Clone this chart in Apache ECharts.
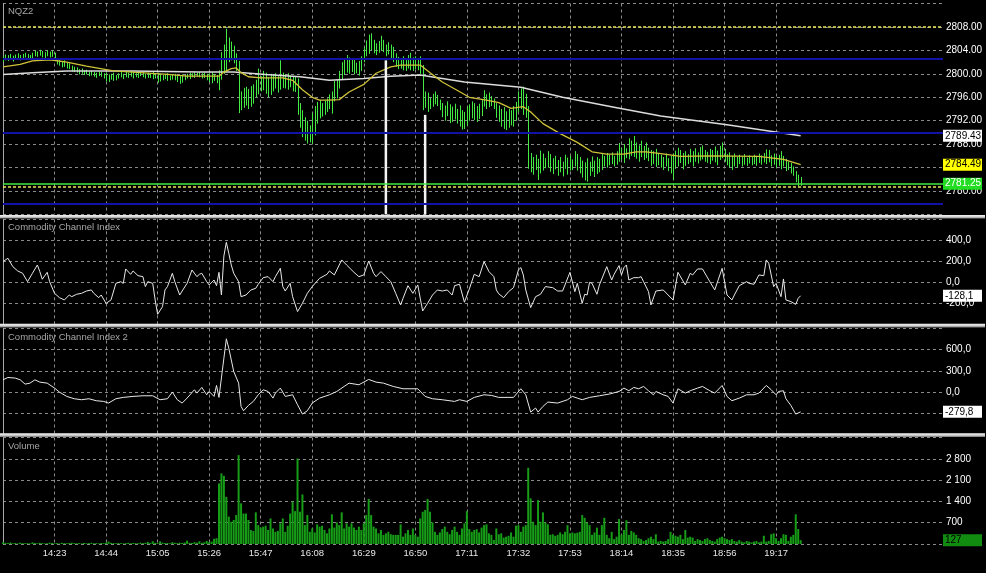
<!DOCTYPE html>
<html><head><meta charset="utf-8">
<script src="https://cdn.jsdelivr.net/npm/echarts@6/dist/echarts.min.js"></script>
<style>html,body{margin:0;padding:0;background:#000;}#c{width:986px;height:573px;}</style>
</head><body><div id="c"></div>
<script>
// ---------------- data ----------------
const symbolName = 'NQZ2';
const startTime = '14:02';   // first 1-minute bar
const endTime = '20:25';     // right edge of the time axis
const timeTicks = ['14:23','14:44','15:05','15:26','15:47','16:08','16:29','16:50','17:11','17:32','17:53','18:14','18:35','18:56','19:17'];

// 1-minute bar highs / lows (one per minute from 14:02)
const highs = [
2803.0,2803.3,2803.2,2803.4,2803.1,2803.3,2803.5,2803.2,2803.4,2803.6,
2803.4,2803.2,2803.6,2804.0,2803.8,2804.1,2803.9,2803.7,2804.0,2803.8,
2804.0,2803.6,2802.6,2802.4,2802.1,2802.3,2801.9,2801.8,2801.4,2801.2,
2801.1,2800.8,2800.9,2800.6,2800.7,2800.4,2800.5,2800.3,2800.2,2800.4,
2800.3,2800.1,2800.2,2799.9,2800.0,2800.2,2799.8,2800.1,2800.3,2800.0,
2800.4,2800.2,2800.5,2800.3,2800.1,2800.4,2800.2,2800.3,2800.0,2800.2,
2800.1,2800.3,2800.0,2800.2,2799.9,2799.8,2800.0,2800.1,2799.7,2799.9,
2800.0,2799.8,2799.6,2799.9,2799.8,2800.0,2800.2,2800.1,2800.3,2800.2,
2800.3,2800.1,2800.2,2800.0,2800.1,2800.3,2800.0,2799.8,2800.6,2803.7,
2805.0,2807.7,2806.2,2805.5,2804.8,2803.5,2802.2,2797.0,2797.6,2797.8,
2797.4,2797.9,2798.2,2799.0,2800.9,2799.6,2800.5,2800.2,2799.4,2800.0,
2799.8,2800.1,2799.6,2802.3,2800.2,2799.9,2800.1,2799.7,2799.5,2799.5,
2799.2,2795.0,2793.8,2792.6,2792.0,2791.2,2793.3,2794.5,2795.2,2795.5,
2795.0,2795.4,2795.8,2796.5,2797.0,2798.8,2799.0,2800.5,2802.0,2802.6,
2803.2,2802.8,2802.4,2802.5,2801.9,2802.2,2803.0,2804.5,2805.7,2806.7,
2806.9,2805.8,2805.2,2805.6,2806.5,2805.8,2805.0,2805.4,2805.0,2804.6,
2803.5,2802.9,2802.4,2803.0,2802.7,2803.2,2803.6,2802.8,2803.0,2802.5,
2803.0,2801.5,2797.0,2796.8,2795.9,2796.6,2797.0,2796.4,2795.6,2795.0,
2794.6,2795.3,2794.8,2794.4,2794.9,2794.0,2794.6,2793.8,2793.5,2794.4,
2794.8,2795.3,2795.0,2794.5,2794.9,2795.6,2797.2,2796.5,2796.8,2796.2,
2795.8,2795.0,2794.6,2794.0,2794.3,2793.6,2794.0,2793.8,2794.5,2795.2,
2797.0,2797.5,2797.8,2796.6,2794.5,2786.5,2785.8,2786.2,2785.5,2786.9,
2786.4,2785.6,2786.8,2786.3,2785.6,2786.0,2785.3,2785.8,2785.0,2786.2,
2785.7,2786.0,2785.4,2786.8,2786.3,2785.8,2785.2,2784.9,2785.6,2785.0,
2785.9,2785.2,2785.8,2785.5,2786.3,2786.0,2786.5,2786.2,2786.6,2786.0,
2786.8,2788.2,2787.4,2788.0,2787.3,2789.0,2788.6,2789.4,2788.3,2787.8,
2788.6,2787.7,2788.3,2787.4,2787.0,2786.8,2787.2,2786.5,2786.2,2785.8,
2786.4,2785.6,2786.0,2786.4,2786.9,2787.4,2787.0,2786.5,2786.8,2786.3,
2787.2,2786.8,2787.3,2786.6,2787.5,2787.8,2787.0,2786.7,2787.2,2787.0,
2787.6,2786.9,2787.7,2788.3,2787.2,2786.3,2786.6,2786.0,2786.4,2785.8,
2786.2,2785.9,2786.3,2785.7,2786.1,2785.8,2786.2,2786.0,2786.4,2786.1,
2786.5,2787.1,2787.0,2786.1,2786.4,2786.0,2786.2,2786.8,2786.0,2785.5,
2785.0,2784.8,2784.2,2783.4,2782.8,2782.4];
const lows = [
2802.0,2802.3,2802.2,2802.4,2802.1,2802.5,2802.6,2802.3,2802.5,2802.8,
2802.6,2802.4,2802.7,2803.0,2802.9,2803.1,2802.8,2802.7,2803.0,2802.8,
2802.9,2802.4,2801.6,2801.4,2801.1,2801.2,2800.9,2800.8,2800.4,2800.3,
2800.2,2799.9,2800.0,2799.8,2799.9,2799.6,2799.7,2799.5,2799.3,2799.6,
2799.5,2799.2,2798.7,2798.6,2799.0,2798.8,2798.9,2799.2,2799.4,2799.1,
2799.4,2799.3,2799.5,2799.2,2799.4,2799.3,2799.6,2799.4,2799.2,2799.3,
2799.3,2799.1,2799.2,2798.5,2798.7,2798.9,2799.1,2798.8,2798.9,2799.0,
2798.9,2798.6,2798.3,2798.5,2798.9,2799.2,2799.1,2799.4,2799.3,2799.5,
2799.4,2799.2,2799.3,2798.9,2798.6,2798.4,2798.8,2798.4,2797.2,2799.0,
2800.0,2800.3,2802.0,2802.3,2801.8,2800.5,2793.3,2793.8,2794.2,2794.6,
2794.0,2794.4,2794.9,2796.0,2796.5,2797.0,2797.2,2796.6,2796.0,2796.4,
2797.0,2797.5,2796.8,2797.3,2797.6,2797.5,2797.3,2797.7,2797.0,2796.9,
2793.0,2790.8,2789.2,2788.6,2788.1,2788.3,2788.1,2789.5,2791.5,2792.4,
2792.7,2793.0,2793.5,2794.0,2793.2,2795.3,2795.8,2797.5,2799.0,2799.8,
2800.2,2800.0,2800.3,2799.9,2800.1,2799.7,2800.5,2802.0,2803.0,2803.4,
2804.0,2803.5,2803.2,2803.6,2804.0,2803.7,2803.0,2803.3,2802.6,2802.0,
2801.2,2800.8,2800.9,2800.6,2800.5,2800.9,2800.6,2800.5,2800.8,2800.6,
2800.0,2793.8,2794.2,2793.5,2794.0,2794.4,2794.8,2794.5,2793.8,2792.6,
2792.0,2792.8,2791.6,2791.8,2792.2,2791.5,2791.0,2790.5,2790.6,2791.2,
2792.0,2792.4,2792.1,2791.8,2792.3,2792.8,2794.4,2794.0,2794.3,2794.5,
2794.0,2792.5,2791.8,2791.0,2790.6,2790.4,2790.8,2791.2,2791.0,2792.0,
2793.5,2794.0,2793.0,2792.5,2783.8,2783.2,2782.8,2783.6,2781.9,2783.0,
2783.5,2783.9,2784.0,2783.3,2782.9,2783.7,2782.6,2783.2,2782.5,2783.8,
2782.8,2783.5,2783.6,2784.2,2783.5,2783.0,2782.3,2781.8,2781.6,2782.6,
2783.3,2782.4,2782.9,2783.2,2783.6,2784.2,2784.0,2784.4,2784.6,2784.2,
2784.5,2785.0,2785.3,2784.8,2785.6,2785.4,2786.0,2785.8,2785.5,2785.0,
2785.8,2785.3,2785.6,2785.1,2784.3,2784.6,2784.1,2784.4,2784.0,2783.6,
2784.2,2783.4,2783.0,2781.9,2783.8,2784.2,2784.8,2783.7,2784.3,2784.6,
2784.9,2784.2,2785.0,2784.7,2785.2,2785.4,2785.0,2784.8,2784.6,2785.2,
2784.9,2784.4,2785.3,2785.6,2785.0,2784.4,2784.0,2783.6,2784.2,2784.0,
2784.6,2784.2,2784.5,2784.3,2784.7,2784.4,2784.6,2784.3,2784.8,2784.5,
2784.9,2784.6,2784.9,2784.2,2784.5,2784.0,2784.3,2783.7,2784.2,2783.4,
2783.6,2783.0,2782.6,2781.5,2780.8,2780.9];
const volumes = [
60,40,30,50,25,35,20,45,30,25,
30,20,55,35,25,40,30,20,25,45,
35,25,30,20,40,30,25,35,45,30,
25,30,20,35,25,30,40,25,30,20,
35,30,45,80,40,30,25,35,30,20,
30,40,25,35,30,25,45,30,40,70,
35,90,40,30,85,45,30,35,25,60,
40,30,45,35,50,110,40,35,60,45,
90,40,55,100,60,80,170,190,1990,2320,
2240,1550,900,730,790,950,2920,1335,1000,1000,
790,460,430,1040,620,540,570,600,460,840,
510,400,430,680,840,400,600,1000,1390,1080,
2810,1060,1630,620,950,400,510,380,645,570,
600,460,350,510,975,540,710,620,1040,510,
680,570,680,540,460,570,460,680,950,1480,
950,570,510,350,460,300,350,400,320,300,
300,300,645,240,350,460,300,510,300,240,
840,1060,1115,1480,1060,710,400,300,380,490,
570,400,320,460,570,400,300,510,680,1080,
490,400,460,490,380,540,620,645,350,300,
130,510,320,350,210,240,270,380,240,600,
620,400,570,620,2505,1500,730,620,1445,730,
1040,710,645,300,320,270,300,380,320,400,
620,350,380,350,370,400,950,860,710,620,
300,380,540,300,620,860,300,190,400,160,
240,820,300,460,780,300,430,380,300,190,
160,100,130,190,240,160,320,80,100,80,
100,160,400,300,270,240,300,160,460,210,
240,210,100,160,130,100,160,190,130,100,
80,160,210,240,190,160,130,160,100,80,
130,80,55,100,80,55,80,100,55,80,
270,80,100,320,350,190,100,190,320,300,
100,240,300,975,490,127];

// moving averages: [minute offset, price]
const maSlow = [[0,2799.9],[12,2800.2],[26,2800.5],[53,2800.5],[80,2800.3],[94,2800.3],[107,2799.9],[121,2799.5],[133,2798.9],[147,2799.2],[158,2799.6],[170,2799.8],[188,2798.6],[211,2797.7],[228,2796.0],[249,2794.3],[268,2792.8],[295,2791.3],[325,2789.43]];
const maFast = [[0,2801.2],[7,2801.6],[12,2802.2],[19,2802.4],[26,2802.0],[34,2801.3],[45,2800.5],[56,2800.2],[67,2799.9],[75,2799.6],[83,2799.6],[88,2799.6],[90,2800.3],[93,2800.9],[95,2801.0],[97,2800.2],[100,2799.5],[105,2799.3],[114,2799.3],[118,2798.9],[122,2797.3],[126,2796.0],[129,2795.5],[133,2795.5],[137,2795.6],[141,2796.9],[147,2798.2],[152,2800.1],[158,2801.2],[162,2801.5],[170,2801.5],[174,2800.2],[179,2798.6],[185,2797.2],[190,2796.0],[197,2795.5],[202,2795.1],[207,2794.1],[212,2794.4],[215,2793.5],[220,2791.5],[227,2789.8],[234,2788.3],[240,2786.7],[246,2786.3],[253,2786.3],[258,2786.7],[262,2786.7],[268,2786.4],[276,2785.9],[288,2786.0],[308,2785.9],[318,2785.4],[325,2784.49]];

// Commodity Channel Index: [minute offset, value]
const cci1 = [[0,197],[2,229],[4,149],[6,108],[8,86],[10,6],[12,86],[14,165],[15,102],[16,29],[18,95],[19,6],[21,-105],[23,-146],[25,-168],[27,-121],[28,-137],[30,-114],[32,-105],[34,-83],[36,-73],[37,-105],[39,-146],[40,-121],[42,-200],[44,-168],[46,-10],[48,6],[49,-10],[50,127],[52,76],[53,108],[55,63],[57,54],[58,-41],[59,6],[61,-10],[62,-168],[63,-305],[65,-232],[66,-73],[67,-41],[69,86],[70,6],[72,-121],[73,-83],[75,-10],[77,117],[79,54],[80,76],[81,86],[83,6],[84,-25],[86,22],[87,-32],[88,95],[89,-121],[90,250],[91,381],[92,276],[93,165],[94,86],[96,6],[97,-137],[99,-121],[101,-73],[103,-57],[104,-19],[106,44],[108,54],[110,6],[111,54],[113,133],[114,-41],[115,-83],[117,-10],[118,-137],[120,-279],[122,-200],[124,-105],[126,-41],[129,38],[132,76],[133,108],[135,70],[138,213],[140,165],[143,95],[145,54],[147,70],[149,203],[151,86],[152,54],[154,102],[156,54],[158,6],[160,-105],[162,-216],[163,-152],[165,-32],[167,-105],[169,-25],[170,-152],[171,-273],[173,-200],[175,-121],[177,-73],[179,-83],[181,-73],[183,-121],[184,-32],[186,-19],[188,-190],[190,-63],[192,76],[194,54],[196,197],[198,102],[200,54],[201,-73],[202,-110],[204,-146],[206,-89],[208,-51],[210,117],[211,140],[212,70],[213,-73],[215,-241],[217,-137],[219,-114],[221,-41],[224,-51],[226,-83],[228,-83],[231,95],[233,-89],[234,-10],[236,-200],[237,-114],[238,-121],[239,0],[240,-10],[242,-114],[243,-25],[246,149],[248,22],[249,76],[251,159],[252,70],[253,140],[254,165],[255,22],[257,44],[259,44],[260,54],[261,6],[263,-89],[264,-216],[266,-83],[269,-73],[271,-121],[273,-168],[275,95],[278,-25],[280,86],[281,70],[283,127],[285,127],[288,6],[290,-73],[293,133],[295,-121],[297,-168],[298,-121],[300,-32],[303,6],[304,-10],[306,-19],[308,70],[310,63],[311,213],[312,181],[314,-41],[315,-10],[317,-137],[318,32],[319,-168],[321,-184],[323,-210],[324,-152],[325,-128.1]];
const cci2 = [[0,174],[2,207],[5,198],[7,174],[9,113],[11,127],[13,174],[15,141],[18,127],[21,57],[23,0],[26,-61],[29,-94],[32,-108],[35,-94],[38,-122],[41,-132],[43,-155],[46,-94],[49,-75],[53,-61],[57,-52],[61,-52],[64,-108],[67,-94],[69,0],[71,-108],[73,-155],[75,-85],[78,33],[79,-14],[81,66],[83,-38],[84,9],[86,-61],[87,94],[88,-75],[90,480],[91,754],[92,622],[94,292],[96,127],[97,-203],[98,-264],[100,-188],[102,-132],[104,-38],[106,33],[108,9],[110,-85],[111,-14],[113,57],[115,-61],[118,-38],[120,-179],[122,-311],[124,-264],[126,-155],[129,-85],[133,-38],[136,9],[139,80],[141,127],[145,104],[149,179],[152,141],[155,127],[159,80],[163,47],[169,47],[172,-61],[175,-94],[179,-108],[184,-132],[186,-108],[189,-132],[192,-75],[196,-38],[199,-47],[202,-75],[208,-75],[211,47],[213,-38],[215,-283],[217,-226],[218,-283],[220,-203],[222,-141],[226,-155],[230,-108],[232,-61],[234,-85],[236,-108],[239,-75],[243,-52],[247,-28],[251,9],[253,57],[255,19],[257,66],[259,47],[261,80],[263,19],[265,-38],[266,9],[269,-38],[271,-61],[273,-155],[275,47],[278,-14],[280,19],[283,57],[285,80],[288,19],[290,-14],[293,94],[295,-61],[297,-122],[300,-85],[303,-38],[306,-38],[308,-14],[311,94],[313,33],[315,-38],[316,9],[318,19],[319,-94],[321,-188],[323,-311],[325,-279.8]];

// horizontal price levels
const blueLevels = [2802.5, 2790.0, 2777.75];
const yellowLevels = [2808.0, 2780.75];
const lastPrice = 2781.25;
// white vertical markers: minute offset and top price
const markerMinutes = [156, 172];
const markerTops = [2802.3, 2793.0];

// ---------------- helpers ----------------
const toMin = s => { const [h, m] = s.split(':').map(Number); return h * 60 + m; };
const t0 = toMin(startTime);
const xMax = toMin(endTime) - t0;
const tickVals = timeTicks.map(t => toMin(t) - t0);
const fmtTime = v => { const m = t0 + Math.round(v); return Math.floor(m / 60) + ':' + String(m % 60).padStart(2, '0'); };
const comma = v => v.toFixed(1).replace('.', ',');
const spaced = v => String(v).replace(/\B(?=(\d{3})+(?!\d))/g, ' ');

const FONT = "'Liberation Sans', Arial, sans-serif";
const GRIDC = '#8a8a8a';
const dashed = { show: true, lineStyle: { color: GRIDC, type: [3, 3], width: 1 } };

const grids = [
  { left: 3, right: 43, top: 3.5, height: 211 },
  { left: 3, right: 43, top: 219.3, height: 105 },
  { left: 3, right: 43, top: 328.5, height: 106 },
  { left: 3, right: 43, top: 437.5, height: 106.5 }
];

const xAxes = grids.map((g, k) => ({
  type: 'value', gridIndex: k, min: 0, max: xMax,
  axisLine: { show: false },
  axisTick: { show: false, customValues: tickVals },
  splitLine: dashed,
  axisLabel: {
    show: k === 3, customValues: tickVals, formatter: fmtTime,
    color: '#e6e6e6', fontSize: 9.5, fontFamily: FONT, margin: 4
  }
}));

const rightAxis = (k, min, max, interval, fmt) => ({
  type: 'value', gridIndex: k, position: 'right', min, max, interval,
  axisLine: { show: true, lineStyle: { color: GRIDC, type: [3, 3] } },
  axisTick: { show: false },
  splitLine: dashed,
  axisLabel: { color: '#ffffff', fontSize: 10, fontFamily: FONT, margin: 3, formatter: fmt, showMinLabel: false, showMaxLabel: false }
});
const leftAxis = k => ({
  type: 'value', gridIndex: k, position: 'left',
  axisLine: { show: true, lineStyle: { color: '#a8a8a8', width: 1 } },
  axisTick: { show: false }, axisLabel: { show: false }, splitLine: { show: false }
});

const yAxes = [
  rightAxis(0, 2776, 2812, 4, v => v.toFixed(2)),
  rightAxis(1, -400, 600, 200, v => comma(v)),
  rightAxis(2, -600, 900, 300, v => comma(v)),
  rightAxis(3, 0, 3500, 700, v => spaced(v)),
  leftAxis(0), leftAxis(1), leftAxis(2), leftAxis(3)
];

const boxLabel = (text, bg, fg) => ({
  show: true, position: 'end', distance: 0, formatter: text,
  backgroundColor: bg, color: fg, fontSize: 10, fontFamily: FONT,
  padding: [1, 1, 0, 2], width: 36, lineHeight: 11
});
const hidden = { width: 0, color: 'rgba(0,0,0,0)' };

const last = a => a[a.length - 1][1];

const priceData = highs.map((h, i) => [i, lows[i], h]);

const levelLines = []
  .concat(blueLevels.map(v => ({ yAxis: v, lineStyle: { color: '#1212a6', width: 2, type: 'solid' }, label: { show: false } })))
  .concat(yellowLevels.map(v => ({ yAxis: v, lineStyle: { color: '#e6e65a', width: 1.5, type: [3, 2] }, label: { show: false } })))
  .concat([{ yAxis: lastPrice, lineStyle: { color: '#3fe83f', width: 1.5, type: 'solid' }, label: boxLabel(lastPrice.toFixed(2), '#22dd22', '#ffffff') }]);

const option = {
  backgroundColor: '#000000',
  animation: false,
  grid: grids,
  xAxis: xAxes,
  yAxis: yAxes,
  title: [
    { text: symbolName, left: 8, top: 6 },
    { text: 'Commodity Channel Index', left: 8, top: 222 },
    { text: 'Commodity Channel Index 2', left: 8, top: 332 },
    { text: 'Volume', left: 8, top: 441 }
  ].map(t => Object.assign(t, { padding: 0, textStyle: { color: '#a6a6a6', fontSize: 9.5, fontWeight: 'normal', fontFamily: FONT } })),
  graphic: [215, 323.8, 433.3].map(y => ({
    type: 'rect', z: 100, silent: true,
    shape: { x: 0, y: y, width: 985, height: 3.6 },
    style: { fill: new echarts.graphic.LinearGradient(0, 0, 0, 1, [
      { offset: 0, color: '#f2f2f2' }, { offset: 0.55, color: '#cfcfcf' }, { offset: 1, color: '#7a7a7a' }]) }
  })),
  series: [
    {
      name: 'levels', type: 'line', xAxisIndex: 0, yAxisIndex: 0, data: [], z: 1,
      markLine: { silent: true, symbol: 'none', animation: false, data: levelLines }
    },
    {
      name: 'price', type: 'custom', xAxisIndex: 0, yAxisIndex: 0, z: 2,
      data: priceData, encode: { x: 0, y: [1, 2] },
      renderItem: (params, api) => {
        const x = api.value(0);
        const a = api.coord([x, api.value(1)]);
        const b = api.coord([x, api.value(2)]);
        const px = Math.round(a[0]) + 0.5;
        return { type: 'line', shape: { x1: px, y1: a[1], x2: px, y2: b[1] }, style: { stroke: '#42ea42', lineWidth: 1 } };
      }
    },
    {
      name: 'maSlow', type: 'line', xAxisIndex: 0, yAxisIndex: 0, z: 3,
      data: maSlow, showSymbol: false, lineStyle: { color: '#dcdcdc', width: 1.5 },
      markLine: { silent: true, symbol: 'none', data: [{ yAxis: last(maSlow), lineStyle: hidden, label: boxLabel(last(maSlow).toFixed(2), '#ffffff', '#000000') }] }
    },
    {
      name: 'maFast', type: 'line', xAxisIndex: 0, yAxisIndex: 0, z: 3,
      data: maFast, showSymbol: false, lineStyle: { color: '#cfc23a', width: 1.3 },
      markLine: { silent: true, symbol: 'none', data: [{ yAxis: last(maFast), lineStyle: hidden, label: boxLabel(last(maFast).toFixed(2), '#ffff00', '#000000') }] }
    },
    {
      name: 'markers', type: 'custom', xAxisIndex: 0, yAxisIndex: 0, z: 4,
      data: markerMinutes.map((m, i) => [m, markerTops[i]]),
      renderItem: (params, api) => {
        const p = api.coord([api.value(0), api.value(1)]);
        const bottom = params.coordSys.y + params.coordSys.height;
        return { type: 'line', shape: { x1: p[0], y1: p[1], x2: p[0], y2: bottom }, style: { stroke: '#f4f4f4', lineWidth: 2.5 } };
      }
    },
    {
      name: 'CCI', type: 'line', xAxisIndex: 1, yAxisIndex: 1, z: 3,
      data: cci1, showSymbol: false, lineStyle: { color: '#e8e8e8', width: 1 },
      markLine: { silent: true, symbol: 'none', data: [{ yAxis: last(cci1), lineStyle: hidden, label: boxLabel(comma(last(cci1)), '#ffffff', '#000000') }] }
    },
    {
      name: 'CCI2', type: 'line', xAxisIndex: 2, yAxisIndex: 2, z: 3,
      data: cci2, showSymbol: false, lineStyle: { color: '#e8e8e8', width: 1 },
      markLine: { silent: true, symbol: 'none', data: [{ yAxis: last(cci2), lineStyle: hidden, label: boxLabel(comma(last(cci2)), '#ffffff', '#000000') }] }
    },
    {
      name: 'Volume', type: 'bar', xAxisIndex: 3, yAxisIndex: 3, z: 2,
      data: volumes.map((v, i) => [i, v]), barWidth: 2,
      itemStyle: { color: '#169c16' },
      markLine: { silent: true, symbol: 'none', data: [{ yAxis: volumes[volumes.length - 1], lineStyle: hidden, label: boxLabel(String(volumes[volumes.length - 1]), '#118c11', '#000000') }] }
    }
  ]
};

const chart = echarts.init(document.getElementById('c'), null, { renderer: 'canvas' });
chart.setOption(option);
</script>
</body></html>
